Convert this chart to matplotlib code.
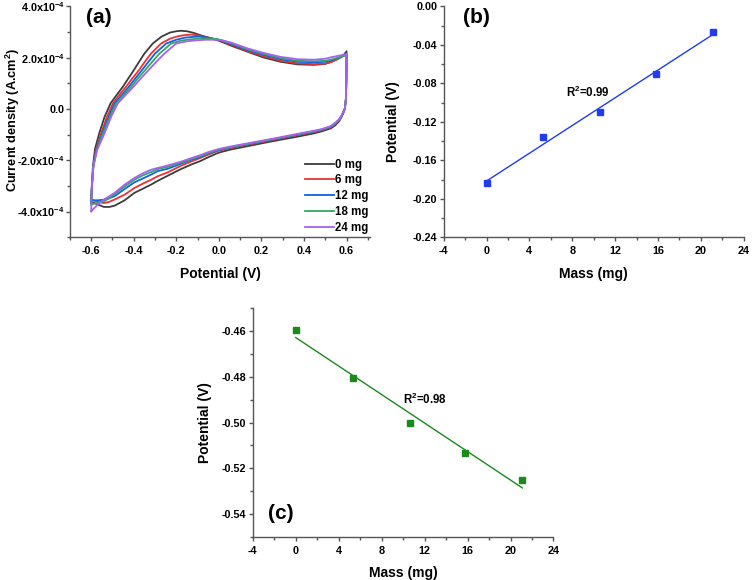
import numpy as np
import matplotlib
matplotlib.use("Agg")
import matplotlib.pyplot as plt
from matplotlib.ticker import MultipleLocator, FixedLocator, FixedFormatter, FormatStrFormatter

plt.rcParams['font.family'] = ['Liberation Sans', 'DejaVu Sans']
plt.rcParams['font.weight'] = 'bold'
plt.rcParams['axes.labelweight'] = 'bold'
plt.rcParams['axes.unicode_minus'] = False
plt.rcParams['mathtext.fontset'] = 'custom'
plt.rcParams['mathtext.rm'] = 'Liberation Sans:bold'
plt.rcParams['mathtext.it'] = 'Liberation Sans:bold'
plt.rcParams['mathtext.bf'] = 'Liberation Sans:bold'

# ---- (a) CV curves, current in units of 1e-4 A.cm2 ----
cv_labels = ['0 mg', '6 mg', '12 mg', '18 mg', '24 mg']
cv_colors = ['#3c3c3c', '#f03030', '#1060e8', '#30a860', '#a860f0']

# forward sweep (-0.6 -> 0.6), potential and current for each loading
v_fwd_0 = [-0.600, -0.597, -0.592, -0.582, -0.562, -0.537, -0.509, -0.480, -0.451, -0.425, -0.400, -0.375,
           -0.350, -0.311, -0.270, -0.230, -0.200, -0.178, -0.150, -0.120, -0.084, -0.040, 0.000, 0.060,
           0.135, 0.213, 0.290, 0.369, 0.447, 0.500, 0.530, 0.560, 0.588, 0.600]
j_fwd_0 = [-3.62, -3.00, -2.24, -1.55, -0.94, -0.30, 0.22, 0.55, 0.87, 1.20, 1.51, 1.84,
           2.16, 2.55, 2.82, 2.98, 3.03, 3.05, 3.03, 2.97, 2.87, 2.76, 2.66, 2.46,
           2.23, 2.00, 1.84, 1.74, 1.72, 1.76, 1.84, 1.96, 2.12, 2.25]

v_fwd_6 = [-0.600, -0.597, -0.590, -0.578, -0.553, -0.526, -0.498, -0.468, -0.436, -0.406, -0.376, -0.348,
           -0.319, -0.272, -0.230, -0.190, -0.160, -0.131, -0.100, -0.060, -0.006, 0.060, 0.135, 0.213,
           0.290, 0.369, 0.447, 0.500, 0.530, 0.560, 0.588, 0.600]
j_fwd_6 = [-3.53, -3.00, -2.24, -1.60, -0.94, -0.30, 0.22, 0.55, 0.87, 1.20, 1.51, 1.84,
           2.16, 2.55, 2.74, 2.84, 2.88, 2.90, 2.87, 2.80, 2.70, 2.50, 2.26, 2.05,
           1.88, 1.78, 1.75, 1.77, 1.84, 1.95, 2.08, 2.14]

v_fwd_12 = [-0.600, -0.597, -0.590, -0.576, -0.548, -0.518, -0.490, -0.456, -0.423, -0.392, -0.362, -0.331,
            -0.300, -0.248, -0.200, -0.160, -0.125, -0.092, -0.050, -0.006, 0.060, 0.135, 0.213, 0.290,
            0.369, 0.447, 0.500, 0.530, 0.560, 0.588, 0.600]
j_fwd_12 = [-3.56, -3.00, -2.24, -1.60, -0.94, -0.30, 0.22, 0.55, 0.87, 1.20, 1.51, 1.84,
            2.16, 2.55, 2.70, 2.78, 2.81, 2.82, 2.78, 2.71, 2.53, 2.30, 2.10, 1.94,
            1.84, 1.82, 1.84, 1.90, 1.98, 2.08, 2.12]

v_fwd_18 = [-0.600, -0.597, -0.590, -0.574, -0.544, -0.512, -0.483, -0.447, -0.412, -0.380, -0.347, -0.313,
            -0.279, -0.225, -0.180, -0.140, -0.100, -0.061, -0.030, -0.006, 0.060, 0.135, 0.213, 0.290,
            0.369, 0.447, 0.500, 0.530, 0.560, 0.588, 0.600]
j_fwd_18 = [-3.72, -3.05, -2.24, -1.60, -0.94, -0.30, 0.22, 0.55, 0.87, 1.20, 1.51, 1.84,
            2.16, 2.55, 2.66, 2.71, 2.74, 2.75, 2.74, 2.72, 2.56, 2.33, 2.14, 1.98,
            1.88, 1.86, 1.88, 1.93, 2.00, 2.08, 2.12]

v_fwd_24 = [-0.600, -0.597, -0.590, -0.572, -0.537, -0.506, -0.475, -0.438, -0.401, -0.366, -0.331, -0.294,
            -0.256, -0.201, -0.150, -0.100, -0.060, -0.021, 0.010, 0.060, 0.135, 0.213, 0.290, 0.369,
            0.447, 0.500, 0.530, 0.560, 0.588, 0.600]
j_fwd_24 = [-3.99, -3.10, -2.24, -1.60, -0.94, -0.30, 0.22, 0.55, 0.87, 1.20, 1.51, 1.84,
            2.16, 2.55, 2.64, 2.68, 2.70, 2.70, 2.69, 2.58, 2.36, 2.18, 2.03, 1.94,
            1.92, 1.96, 2.02, 2.07, 2.12, 2.15]

# reverse sweep (0.6 -> -0.6), shared potential points
v_rev = [0.600, 0.599, 0.597, 0.592, 0.580, 0.565, 0.545, 0.525, 0.480, 0.447, 0.369, 0.290, 0.213,
         0.135, 0.056, 0.000, -0.050, -0.084, -0.131, -0.180, -0.240, -0.287, -0.319, -0.360, -0.397,
         -0.443, -0.490, -0.515, -0.540, -0.570, -0.600]
j_rev_0 = [2.25, 1.20, 0.40, 0.00, -0.25, -0.48, -0.65, -0.76, -0.88, -0.95, -1.08, -1.20, -1.32,
           -1.45, -1.58, -1.70, -1.88, -2.02, -2.17, -2.35, -2.60, -2.80, -2.95, -3.12, -3.27,
           -3.56, -3.77, -3.82, -3.82, -3.72, -3.62]
j_rev_6 = [2.14, 1.20, 0.40, 0.02, -0.22, -0.44, -0.60, -0.72, -0.84, -0.90, -1.02, -1.15, -1.27,
           -1.39, -1.52, -1.62, -1.78, -1.90, -2.05, -2.22, -2.47, -2.62, -2.76, -2.92, -3.08,
           -3.34, -3.53, -3.62, -3.67, -3.62, -3.53]
j_rev_12 = [2.12, 1.20, 0.40, 0.02, -0.22, -0.43, -0.58, -0.70, -0.82, -0.88, -1.00, -1.13, -1.25,
            -1.37, -1.50, -1.60, -1.74, -1.86, -1.98, -2.14, -2.33, -2.42, -2.56, -2.72, -2.86,
            -3.12, -3.40, -3.48, -3.54, -3.56, -3.56]
j_rev_18 = [2.12, 1.20, 0.40, 0.02, -0.22, -0.42, -0.57, -0.69, -0.81, -0.87, -0.99, -1.12, -1.24,
            -1.36, -1.49, -1.58, -1.72, -1.83, -1.95, -2.10, -2.26, -2.34, -2.46, -2.60, -2.76,
            -3.02, -3.32, -3.48, -3.60, -3.66, -3.72]
j_rev_24 = [2.15, 1.20, 0.40, 0.03, -0.20, -0.40, -0.55, -0.67, -0.79, -0.85, -0.97, -1.10, -1.22,
            -1.34, -1.46, -1.56, -1.68, -1.79, -1.92, -2.06, -2.20, -2.30, -2.37, -2.52, -2.69,
            -2.95, -3.27, -3.40, -3.53, -3.73, -3.99]

v_fwd_all = [v_fwd_0, v_fwd_6, v_fwd_12, v_fwd_18, v_fwd_24]
j_fwd_all = [j_fwd_0, j_fwd_6, j_fwd_12, j_fwd_18, j_fwd_24]
j_rev_all = [j_rev_0, j_rev_6, j_rev_12, j_rev_18, j_rev_24]

cv_yticks = [-4e-4, -2e-4, 0.0, 2e-4, 4e-4]
cv_yticklabels = ['-4.0x10$^{-4}$', '-2.0x10$^{-4}$', '0.0', '2.0x10$^{-4}$', '4.0x10$^{-4}$']

# ---- (b) and (c) potential vs mass ----
mass_b = [0.0, 5.3, 10.6, 15.8, 21.1]
pot_b = [-0.184, -0.136, -0.110, -0.070, -0.027]
mass_c = [0.0, 5.3, 10.6, 15.8, 21.1]
pot_c = [-0.4596, -0.4805, -0.5002, -0.5132, -0.5252]


def style_axes(ax, ypad):
    ax.spines['top'].set_visible(False)
    ax.spines['right'].set_visible(False)
    for s in ['left', 'bottom']:
        ax.spines[s].set_color('#555555')
        ax.spines[s].set_linewidth(1.0)
    ax.tick_params(which='both', direction='out', colors='#555555', labelcolor='black', width=1.0)
    ax.tick_params(which='major', length=3, labelsize=7.8)
    ax.tick_params(which='minor', length=2)
    ax.tick_params(axis='x', which='major', pad=3.5)
    ax.tick_params(axis='y', which='major', pad=ypad)


fig = plt.figure(figsize=(7.52, 5.80), dpi=100)

# (a)
ax1 = fig.add_axes([0.093, 0.591, 0.399, 0.398])
for i in range(len(cv_labels)):
    v = list(v_fwd_all[i]) + list(v_rev)
    j = np.array(list(j_fwd_all[i]) + list(j_rev_all[i])) * 1e-4
    ax1.plot(v, j, color=cv_colors[i], lw=1.3, label=cv_labels[i])
ax1.set_xlim(-0.7, 0.71)
ax1.set_ylim(-5e-4, 4e-4)
ax1.xaxis.set_major_locator(MultipleLocator(0.2))
ax1.xaxis.set_minor_locator(MultipleLocator(0.1))
ax1.yaxis.set_major_locator(FixedLocator(cv_yticks))
ax1.yaxis.set_major_formatter(FixedFormatter(cv_yticklabels))
ax1.yaxis.set_minor_locator(MultipleLocator(1e-4))
style_axes(ax1, 0.5)
ax1.set_xlabel('Potential (V)', fontsize=10)
ax1.set_ylabel('Current density (A.cm$^{2}$)', fontsize=9.2)
ax1.xaxis.set_label_coords(0.5, -0.13)
ax1.yaxis.set_label_coords(-0.16, 0.51)
ax1.text(0.053, 0.952, '(a)', transform=ax1.transAxes, fontsize=15, fontweight='bold', va='center')
ax1.legend(loc='lower right', bbox_to_anchor=(1.03, -0.03), frameon=False, fontsize=8.3,
           handlelength=2.5, handletextpad=0.15, labelspacing=0.33)

# (b)
ax2 = fig.add_axes([0.590, 0.591, 0.399, 0.398])
fit_b = np.polyfit(mass_b, pot_b, 1)
xb = np.array([mass_b[0], mass_b[-1]])
ax2.plot(xb, np.polyval(fit_b, xb), color='#1f3cf0', lw=1.0)
ax2.plot(mass_b, pot_b, 's', color='#1f3cf0', ms=4.5)
ax2.set_xlim(-4, 24)
ax2.set_ylim(-0.24, 0.0)
ax2.xaxis.set_major_locator(MultipleLocator(4))
ax2.xaxis.set_minor_locator(MultipleLocator(2))
ax2.yaxis.set_major_locator(MultipleLocator(0.04))
ax2.yaxis.set_minor_locator(MultipleLocator(0.02))
ax2.yaxis.set_major_formatter(FormatStrFormatter('%.2f'))
style_axes(ax2, 1.5)
ax2.set_xlabel('Mass (mg)', fontsize=10)
ax2.set_ylabel('Potential (V)', fontsize=10)
ax2.xaxis.set_label_coords(0.5, -0.13)
ax2.yaxis.set_label_coords(-0.147, 0.5)
ax2.text(0.063, 0.952, '(b)', transform=ax2.transAxes, fontsize=15, fontweight='bold', va='center')
ax2.text(7.4, -0.094, 'R$^{2}$=0.99', fontsize=8.3, va='baseline')

# (c)
ax3 = fig.add_axes([0.336, 0.074, 0.400, 0.395])
fit_c = np.polyfit(mass_c, pot_c, 1)
xc = np.array([mass_c[0], mass_c[-1]])
ax3.plot(xc, np.polyval(fit_c, xc), color='#1a8a1a', lw=1.0)
ax3.plot(mass_c, pot_c, 's', color='#1a8a1a', ms=4.5)
ax3.set_xlim(-4, 24)
ax3.set_ylim(-0.55, -0.45)
ax3.xaxis.set_major_locator(MultipleLocator(4))
ax3.xaxis.set_minor_locator(MultipleLocator(2))
ax3.yaxis.set_major_locator(FixedLocator([-0.54, -0.52, -0.50, -0.48, -0.46]))
ax3.yaxis.set_minor_locator(MultipleLocator(0.01))
ax3.yaxis.set_major_formatter(FormatStrFormatter('%.2f'))
style_axes(ax3, 1.5)
ax3.set_xlabel('Mass (mg)', fontsize=10)
ax3.set_ylabel('Potential (V)', fontsize=10)
ax3.xaxis.set_label_coords(0.5, -0.125)
ax3.yaxis.set_label_coords(-0.136, 0.5)
ax3.text(0.05, 0.105, '(c)', transform=ax3.transAxes, fontsize=15, fontweight='bold', va='center')
ax3.text(9.95, -0.492, 'R$^{2}$=0.98', fontsize=8.3, va='baseline')

fig.savefig('out.png', dpi=100)
